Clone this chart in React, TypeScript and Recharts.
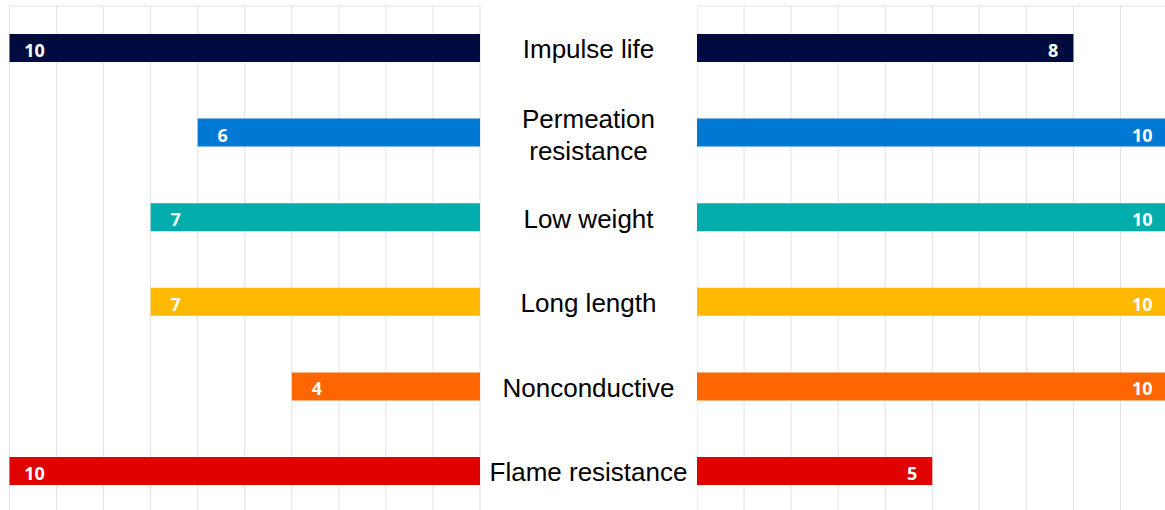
import { BarChart, Bar, XAxis, YAxis, CartesianGrid, Cell, LabelList } from "recharts";

const categories = [
  "Impulse life",
  "Permeation\nresistance",
  "Low weight",
  "Long length",
  "Nonconductive",
  "Flame resistance",
];
const leftValues = [10, 6, 7, 7, 4, 10];
const rightValues = [8, 10, 10, 10, 10, 5];
const barColors = ["#000c3f", "#0078d4", "#00adad", "#ffb900", "#ff6600", "#e00000"];
const xTicks = [0, 1, 2, 3, 4, 5, 6, 7, 8, 9, 10];

const leftData = categories.map((name, i) => ({ name, value: leftValues[i] }));
const rightData = categories.map((name, i) => ({ name, value: rightValues[i] }));

const GRID = "#e2e2e2";
const CHART_H = 520;
const MARGIN_V = { top: 5, bottom: 6.4 };

const NoTick = () => <g />;

// category names sit in the gap between the two charts
function CategoryTick(props: any) {
  const { x, y, payload } = props;
  const lines: string[] = String(payload.value).split("\n");
  const cx = x + 108.5;
  const first = lines.length === 1 ? y + 10 : y - 5;
  return (
    <text
      x={cx}
      y={first}
      textAnchor="middle"
      fill="#000"
      fontFamily="'Liberation Sans', Arial, sans-serif"
      fontSize={26}
    >
      {lines.map((l, i) => (
        <tspan key={i} x={cx} dy={i === 0 ? 0 : 32}>
          {l}
        </tspan>
      ))}
    </text>
  );
}

const valueLabel = (side: "left" | "right") => (props: any) => {
  const { x, y, width, height, value } = props;
  const x0 = Math.min(x, x + width);
  const x1 = Math.max(x, x + width);
  const tx = side === "left" ? x0 + 25 : x1 - 15;
  return (
    <text
      x={tx}
      y={y + height / 2 + 9}
      textAnchor={side === "left" ? "middle" : "end"}
      fill="#fff"
      fontFamily="'Open Sans', sans-serif"
      fontWeight={700}
      fontSize={18}
    >
      {value}
    </text>
  );
};

export default function App() {
  return (
    <div
      style={{
        position: "fixed",
        top: 0,
        left: 0,
        width: 1165,
        height: 510,
        overflow: "hidden",
        background: "#fff",
      }}
    >
      <div style={{ position: "absolute", left: 0, top: 0 }}>
        <BarChart
          width={697}
          height={CHART_H}
          data={leftData}
          layout="vertical"
          margin={{ ...MARGIN_V, left: 9.5, right: 0 }}
        >
          <CartesianGrid horizontal={false} stroke={GRID} />
          <XAxis
            type="number"
            orientation="top"
            domain={[0, 10]}
            ticks={xTicks}
            interval={0}
            reversed
            height={1}
            tick={<NoTick />}
            tickLine={false}
            axisLine={{ stroke: GRID }}
          />
          <YAxis
            type="category"
            dataKey="name"
            orientation="right"
            width={217}
            axisLine={false}
            tickLine={false}
            tickSize={0}
            tickMargin={0}
            interval={0}
            tick={<CategoryTick />}
          />
          <Bar dataKey="value" barSize={28} isAnimationActive={false}>
            {leftData.map((_, i) => (
              <Cell key={i} fill={barColors[i]} />
            ))}
            <LabelList dataKey="value" content={valueLabel("left")} />
          </Bar>
        </BarChart>
      </div>
      <div style={{ position: "absolute", left: 697, top: 0 }}>
        <BarChart
          width={470.5}
          height={CHART_H}
          data={rightData}
          layout="vertical"
          margin={{ ...MARGIN_V, left: 0, right: 0 }}
        >
          <CartesianGrid horizontal={false} stroke={GRID} />
          <XAxis
            type="number"
            orientation="top"
            domain={[0, 10]}
            ticks={xTicks}
            interval={0}
            height={1}
            tick={<NoTick />}
            tickLine={false}
            axisLine={{ stroke: GRID }}
          />
          <YAxis type="category" dataKey="name" hide />
          <Bar dataKey="value" barSize={28} isAnimationActive={false}>
            {rightData.map((_, i) => (
              <Cell key={i} fill={barColors[i]} />
            ))}
            <LabelList dataKey="value" content={valueLabel("right")} />
          </Bar>
        </BarChart>
      </div>
    </div>
  );
}
